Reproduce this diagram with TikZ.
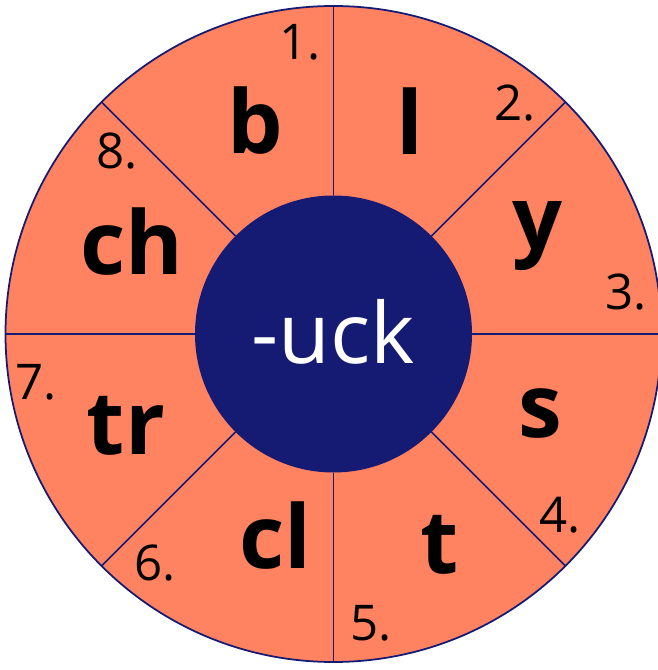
\documentclass[tikz,border=0pt]{standalone}
\usepackage{fontspec}
\setmainfont{Open Sans}
\usepackage{tikz}
\usetikzlibrary{calc}
\definecolor{salmon}{HTML}{FF8261}
\definecolor{navy}{HTML}{151A73}
\tikzset{
  onset/.style={font=\bfseries\fontsize{50}{60}\selectfont, text=black, inner sep=0pt},
  numlabel/.style={font=\fontsize{28}{32}\selectfont, text=black, inner sep=0pt},
  rimline/.style={draw=navy, line width=1pt}
}
\begin{document}
\begin{tikzpicture}
    \def\R{6.56}
    \def\r{2.77}
    \useasboundingbox (-6.67,-6.72) rectangle (6.47,6.68);
    \coordinate (c) at (0,0);
    % outer ring
    \filldraw[fill=salmon, rimline] (c) circle(\R);
    \foreach \ang in {0,45,...,315}
      \draw[rimline] (\ang:\r) -- (\ang:\R);
    % hub
    \fill[navy] (c) circle(\r);
    \node[font=\fontsize{48}{56}\selectfont, text=white, inner sep=0pt] (hub) at (0,0.05) {-uck};
    % onsets
    \node[onset] (b)  at (-1.57, 4.26) {b};
    \node[onset] (l)  at ( 1.53, 4.26) {l};
    \node[onset] (y)  at ( 4.07, 1.96) {y};
    \node[onset] (s)  at ( 4.13,-1.58) {s};
    \node[onset] (t)  at ( 2.13,-4.22) {t};
    \node[onset] (cl) at (-1.17,-4.04) {cl};
    \node[onset] (tr) at (-4.15,-1.84) {tr};
    \node[onset] (ch) at (-4.03, 1.84) {ch};
    % numbers
    \node[numlabel] (n1) at (-0.67, 5.84) {1.};
    \node[numlabel] (n2) at ( 3.63, 4.62) {2.};
    \node[numlabel] (n3) at ( 5.85, 0.84) {3.};
    \node[numlabel] (n4) at ( 4.53,-3.62) {4.};
    \node[numlabel] (n5) at ( 0.75,-5.78) {5.};
    \node[numlabel] (n6) at (-3.57,-4.58) {6.};
    \node[numlabel] (n7) at (-5.95,-0.96) {7.};
    \node[numlabel] (n8) at (-4.33, 3.66) {8.};
\end{tikzpicture}
\end{document}
